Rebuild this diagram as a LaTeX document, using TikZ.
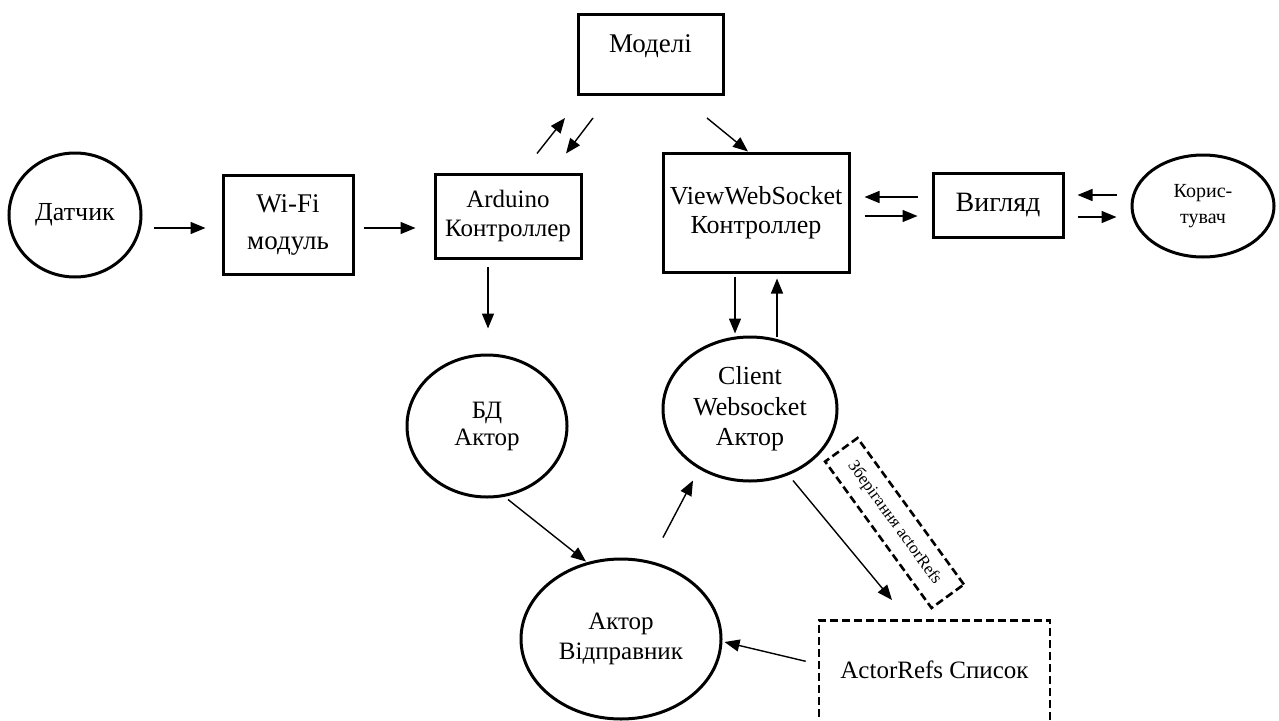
\documentclass[tikz,border=0pt]{standalone}
\usepackage{fontspec}
\setmainfont{Liberation Serif}
\usetikzlibrary{shapes.geometric,arrows.meta}

\newcommand{\fsz}[2]{\fontsize{#1}{#2}\selectfont}

\tikzset{
  box/.style={draw, line width=3pt, inner sep=0pt, align=center},
  oval/.style={draw, ellipse, line width=3pt, inner sep=0pt, align=center},
  dashbox/.style={draw, dash pattern=on 8pt off 4pt, line width=2.6pt, inner sep=0pt, align=center},
  arr/.style={-{Triangle[length=15pt,width=12pt]}, line width=1.4pt},
}

\begin{document}
\begin{tikzpicture}[x=1pt,y=-1pt]
  \useasboundingbox (0,0) rectangle (1279,720);
  \clip (0,0) rectangle (1279,720);

  % Ліва гілка
  \node[oval, minimum width=132pt, minimum height=124pt, font=\fsz{26}{30}] (dat) at (75,215) {Датчик};
  \node[box, minimum width=130pt, minimum height=99pt, font=\fsz{27}{37}] (wifi) at (288,224.5) {Wi-Fi\\модуль};
  \node[box, minimum width=146pt, minimum height=84pt, font=\fsz{25}{29}] (ard) at (508,216) {Arduino\\Контроллер};
  \node[box, anchor=north, minimum width=145pt, text height=38pt, text depth=42pt, font=\fsz{27}{30}] (model) at (650.5,13) {Моделі};

  % Права гілка
  \node[box, minimum width=186pt, minimum height=119pt, font=\fsz{26}{29}] (vws) at (756,212.5) {ViewWebSocket\\Контроллер};
  \node[box, minimum width=130pt, minimum height=64pt, font=\fsz{28}{30}] (view) at (998,205) {Вигляд};
  \node[oval, minimum width=142pt, minimum height=102pt, font=\fsz{20}{26}] (user) at (1203,206) {Корис-\\тувач};

  % Актори
  \node[oval, minimum width=160pt, minimum height=142pt, font=\fsz{25}{27}] (db) at (487,426) {БД\\Актор};
  \node[oval, minimum width=174pt, minimum height=144pt, font=\fsz{26}{30.5}] (client) at (750,409) {Client\\Websocket\\Актор};
  \node[oval, minimum width=200pt, minimum height=160pt, font=\fsz{25}{30}] (sender) at (621,639) {Актор\\Відправник};
  \node[dashbox, anchor=north, minimum width=231pt, text height=58pt, text depth=63pt, font=\fsz{25}{28}] (refs) at (934.5,619) {ActorRefs Список};
  \node[dashbox, rotate=-54, minimum width=181pt, minimum height=40pt, font=\fsz{17}{20}] (store) at (894.5,523) {Зберігання actorRefs};

  % Стрілки
  \draw[arr] ([shift={(11,13)}]dat.east) -- ([shift={(-16,3.5)}]wifi.west);
  \draw[arr] ([shift={(9,3.5)}]wifi.east) -- ([shift={(-18,12)}]ard.west);
  \draw[arr] ([shift={(-20,7)}]ard.south) -- ([shift={(1,-25)}]db.north);
  \draw[arr] ([shift={(29,-19)}]ard.north) -- ([shift={(-85.5,22)}]model.south);
  \draw[arr] ([shift={(-57.5,22)}]model.south) -- ([shift={(58,-19)}]ard.north);
  \draw[arr] ([shift={(56.5,22)}]model.south) -- ([shift={(-8,0)}]vws.north);
  \draw[arr] ([shift={(-14,-8)}]view.west) -- ([shift={(14,-15.5)}]vws.east);
  \draw[arr] ([shift={(14,3.5)}]vws.east) -- ([shift={(-14,11)}]view.west);
  \draw[arr] ([shift={(-14,-11)}]user.west) -- ([shift={(13,-10)}]view.east);
  \draw[arr] ([shift={(13,12)}]view.east) -- ([shift={(-14,11)}]user.west);
  \draw[arr] ([shift={(-21,3)}]vws.south) -- ([shift={(-15,-2)}]client.north);
  \draw[arr] ([shift={(27,1)}]client.north) -- ([shift={(21,5)}]vws.south);
  \draw[arr] ([shift={(21,1)}]db.south) -- ([shift={(-35,4)}]sender.north);
  \draw[arr] ([shift={(42,-20)}]sender.north) -- ([shift={(-57,-2)}]client.south);
  \draw[arr] ([shift={(43,-2)}]client.south) -- ([shift={(-42.5,-19)}]refs.north);
  \draw[arr] ([shift={(-12,-19.5)}]refs.west) -- ([shift={(2,3)}]sender.east);
\end{tikzpicture}
\end{document}
